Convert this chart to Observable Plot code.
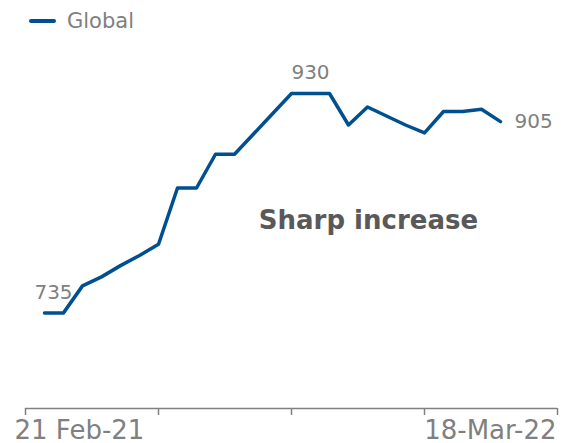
<!DOCTYPE html>
<html>
<head>
<meta charset="utf-8">
<script src="https://cdn.jsdelivr.net/npm/d3@7"></script>
<script src="https://cdn.jsdelivr.net/npm/@observablehq/plot@0.6"></script>
<style>
  html, body { margin: 0; padding: 0; background: #fff; }
  body { width: 562px; height: 443px; overflow: hidden; font-family: "DejaVu Sans", Verdana, sans-serif; }
  #legend { position: relative; height: 44px; width: 562px; }
  #legend .swatch { position: absolute; left: 29px; top: 19px; width: 27px; height: 4px; background: #00508f; border-radius: 2px; }
  #legend .label { position: absolute; left: 67px; top: 8px; font-size: 21px; color: #808080; line-height: 26px; }
  svg { display: block; }
</style>
</head>
<body>
<div id="legend"><span class="swatch"></span><span class="label">Global</span></div>
<div id="chart"></div>
<script>
// Series (one value per period, in order)
const seriesName = "Global";
const values = [735, 735, 759, 767, 777, 786, 796, 846, 846, 876, 876, 894, 912, 930, 930, 930, 902, 918, 910, 902, 895, 914, 914, 916, 905];
// Axis
const tickPositions = [-1, 6, 13, 20, 27];
const tickLabels = ["21 Feb-21", "18-Mar-22"];
const tickLabelPositions = [-1, 27];
// Value call-outs (index into values)
const calloutIndex = [0, 14, 24];
// Annotation
const annotationText = ["Sharp increase"];
const annotationPos = [{x: 17.05, y: 810}];

const data = values.map((v, i) => ({i, v}));
const lineColor = "#00508f";
const grey = "#808080";
const yMin = 650;
const tickLen = 7 / 1.125; // tick length in value units (≈7px)

const chart = Plot.plot({
  width: 562,
  height: 399,
  marginLeft: 25,
  marginRight: 5,
  marginTop: 26.5,
  marginBottom: 35,
  style: {fontFamily: "DejaVu Sans, Verdana, sans-serif", background: "white"},
  x: {domain: [-1, 27], axis: null},
  y: {domain: [yMin, 950], axis: null},
  marks: [
    Plot.ruleY([yMin], {x1: -1, x2: 27, stroke: grey, strokeWidth: 1.5}),
    Plot.ruleX(tickPositions, {x: d => d, y1: yMin, y2: yMin - tickLen, stroke: grey, strokeWidth: 1.5}),
    Plot.line(data, {x: "i", y: "v", stroke: lineColor, strokeWidth: 3.5, strokeLinejoin: "round", curve: "linear"}),
    Plot.text([calloutIndex[0]], {x: d => d, y: d => values[d], text: d => String(values[d]), dx: 9, dy: -14, lineAnchor: "bottom", textAnchor: "middle", fontSize: 20, fill: grey}),
    Plot.text([calloutIndex[1]], {x: d => d, y: d => values[d], text: d => String(values[d]), dy: -15, lineAnchor: "bottom", textAnchor: "middle", fontSize: 20, fill: grey}),
    Plot.text([calloutIndex[2]], {x: d => d, y: d => values[d], text: d => String(values[d]), dx: 14, dy: 6, lineAnchor: "bottom", textAnchor: "start", fontSize: 20, fill: grey}),
    Plot.text([0], {x: () => tickLabelPositions[0], y: () => yMin, text: () => tickLabels[0], dx: -11, dy: 30, lineAnchor: "bottom", textAnchor: "start", fontSize: 26, fill: grey}),
    Plot.text([1], {x: () => tickLabelPositions[1], y: () => yMin, text: () => tickLabels[1], dx: -1, dy: 30, lineAnchor: "bottom", textAnchor: "end", fontSize: 26, fill: grey}),
    Plot.text(annotationPos, {x: "x", y: "y", text: (d, i) => annotationText[i], lineAnchor: "bottom", textAnchor: "middle", fontSize: 26, fontWeight: "bold", fill: "#595959"})
  ]
});
document.getElementById("chart").append(chart);
</script>
</body>
</html>
